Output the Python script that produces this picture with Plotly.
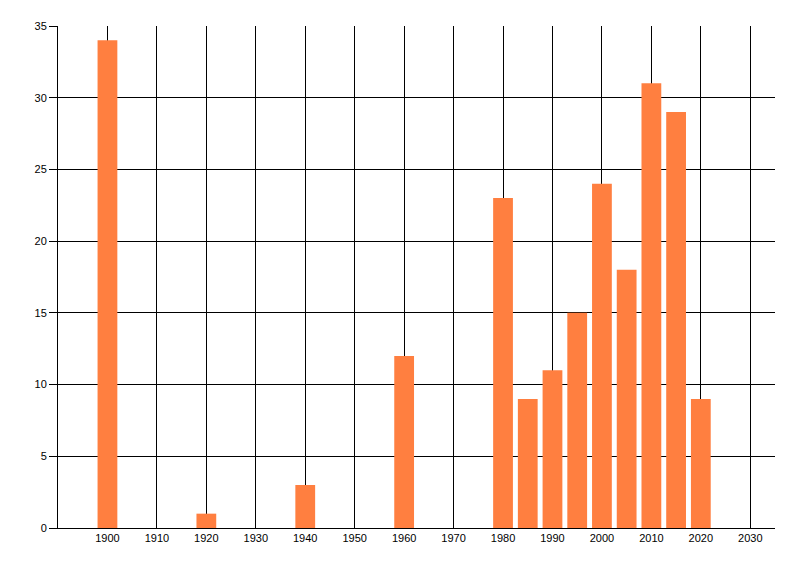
import plotly.graph_objects as go

years = [1900, 1920, 1940, 1960, 1980, 1985, 1990, 1995, 2000, 2005, 2010, 2015, 2020]
counts = [34, 1, 3, 12, 23, 9, 11, 15, 24, 18, 31, 29, 9]
x_ticks = list(range(1900, 2031, 10))
y_ticks = list(range(0, 36, 5))

fig = go.Figure(go.Bar(x=years,
                       y=counts,
                       width=4,
                       marker=dict(color='#FF7F40', line=dict(width=0))))

# the page puts the figure 8px in from the top left corner
fig.update_layout(width=800, height=576,
                  margin=dict(l=50, r=33, t=18, b=56),
                  plot_bgcolor='white',
                  paper_bgcolor='white',
                  showlegend=False,
                  font=dict(family='Liberation Sans, Arial, sans-serif', size=11, color='black'))

fig.update_xaxes(range=[1890, 2035],
                 tickvals=x_ticks,
                 showgrid=True, gridcolor='black', gridwidth=1,
                 showline=True, linecolor='black', linewidth=1,
                 ticks='', zeroline=False)
fig.update_yaxes(range=[0, 35],
                 tickvals=y_ticks,
                 showgrid=True, gridcolor='black', gridwidth=1,
                 showline=True, linecolor='black', linewidth=1,
                 ticks='outside', ticklen=8, tickcolor='black',
                 zeroline=False)

fig.write_html("out.html")
